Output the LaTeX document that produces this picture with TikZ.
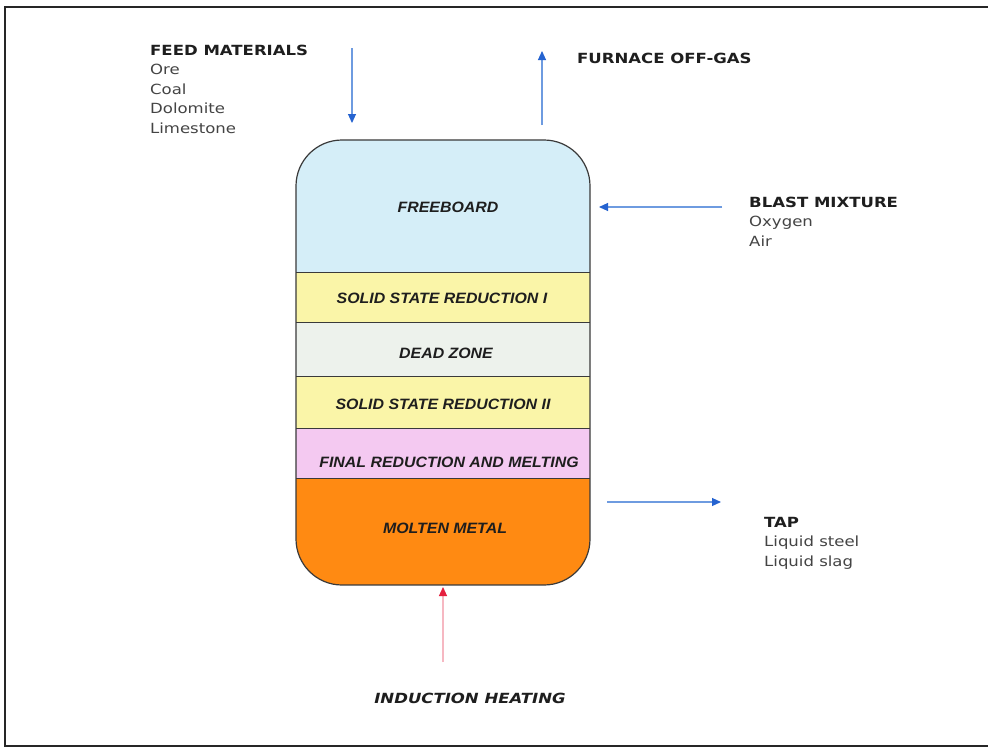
\documentclass[tikz,border=0pt]{standalone}
\usepackage{fontspec}
\setmainfont{Liberation Sans}
\newfontfamily\verd[FakeStretch=1.18]{DejaVu Sans}
\newfontfamily\arialx[FakeStretch=1.06]{Liberation Sans}
\usetikzlibrary{arrows.meta}
\definecolor{fbblue}{HTML}{D5EEF8}
\definecolor{ssyellow}{HTML}{FAF5A8}
\definecolor{deadgrey}{HTML}{EDF2EC}
\definecolor{meltpink}{HTML}{F4C9F1}
\definecolor{moltenorange}{HTML}{FF8A12}
\definecolor{flowline}{HTML}{6E9BE0}
\definecolor{flowhead}{HTML}{2563D0}
\definecolor{heatline}{HTML}{F6B8C2}
\definecolor{heathead}{HTML}{E5203F}
\definecolor{outline}{HTML}{3A3A3A}
\definecolor{labtext}{HTML}{1E1E1E}
\definecolor{bodytext}{HTML}{444444}
\tikzset{
  zonelab/.style={font=\arialx\bfseries\itshape\fontsize{15}{18}\selectfont, text=labtext, inner sep=0pt},
  headlab/.style={font=\verd\bfseries\fontsize{14}{19}\selectfont, text=labtext, inner sep=0pt, anchor=base west},
  itemlab/.style={font=\verd\fontsize{14}{19}\selectfont, text=bodytext, inner sep=0pt, anchor=base west},
  flow/.style={draw=flowline, line width=1.1pt, -{Triangle[length=9pt,width=8pt,color=flowhead]}},
  heat/.style={draw=heatline, line width=1.1pt, -{Triangle[length=9pt,width=8pt,color=heathead]}},
  sep/.style={draw=outline, line width=0.9pt}
}
\begin{document}
\begin{tikzpicture}[x=1pt,y=-1pt]
\useasboundingbox (0,0) rectangle (988,750);
\fill[white] (0,0) rectangle (988,750);
\draw[line width=2.2pt, black!85] (988,7) -- (5,7) -- (5,746) -- (988,746);

% vessel
\begin{scope}
\clip[rounded corners=46pt] (296,140) rectangle (590,585);
\fill[fbblue] (296,140) rectangle (590,272);
\fill[ssyellow] (296,272) rectangle (590,322);
\fill[deadgrey] (296,322) rectangle (590,376);
\fill[ssyellow] (296,376) rectangle (590,428);
\fill[meltpink] (296,428) rectangle (590,478);
\fill[moltenorange] (296,478) rectangle (590,585);
\end{scope}
\draw[sep] (296,272) -- (590,272);
\draw[sep] (296,322) -- (590,322);
\draw[sep] (296,376) -- (590,376);
\draw[sep] (296,428) -- (590,428);
\draw[sep] (296,478) -- (590,478);
\draw[outline, line width=1.2pt, rounded corners=46pt] (296,140) rectangle (590,585);

\node[zonelab] (fb) at (448,207) {FREEBOARD};
\node[zonelab] (ss1) at (442,298) {SOLID STATE REDUCTION I};
\node[zonelab] (dz) at (446,353) {DEAD ZONE};
\node[zonelab] (ss2) at (443,404) {SOLID STATE REDUCTION II};
\node[zonelab] (frm) at (449,462) {FINAL REDUCTION AND MELTING};
\node[zonelab] (mm) at (445,528) {MOLTEN METAL};

% feed materials
\node[headlab] (feedh) at (150,55) {FEED MATERIALS};
\node[itemlab] (ore) at (150,74.5) {Ore};
\node[itemlab] (coal) at (150,94) {Coal};
\node[itemlab] (dolo) at (150,113.5) {Dolomite};
\node[itemlab] (lime) at (150,133) {Limestone};

% off-gas
\node[headlab] (offgas) at (577,63) {FURNACE OFF-GAS};

% blast
\node[headlab] (blasth) at (749,207) {BLAST MIXTURE};
\node[itemlab] (oxy) at (749,226.5) {Oxygen};
\node[itemlab] (air) at (749,246) {Air};

% tap
\node[headlab] (taph) at (764,527) {TAP};
\node[itemlab] (steel) at (764,546.5) {Liquid steel};
\node[itemlab] (slag) at (764,566) {Liquid slag};

% induction
\node[font=\verd\bfseries\itshape\fontsize{14}{19}\selectfont, text=labtext, inner sep=0pt, anchor=base] (ind) at (470,703) {INDUCTION HEATING};

% arrows
\coordinate (feedA) at (352,48);
\coordinate (feedB) at (352,123);
\draw[flow] (feedA) -- (feedB);
\coordinate (gasA) at (542,125);
\coordinate (gasB) at (542,51);
\draw[flow] (gasA) -- (gasB);
\coordinate (blastA) at (722,207);
\coordinate (blastB) at (599,207);
\draw[flow] (blastA) -- (blastB);
\coordinate (tapA) at (607,502);
\coordinate (tapB) at (721,502);
\draw[flow] (tapA) -- (tapB);
\coordinate (heatA) at (443,662);
\coordinate (heatB) at (443,587);
\draw[heat] (heatA) -- (heatB);
\end{tikzpicture}
\end{document}
